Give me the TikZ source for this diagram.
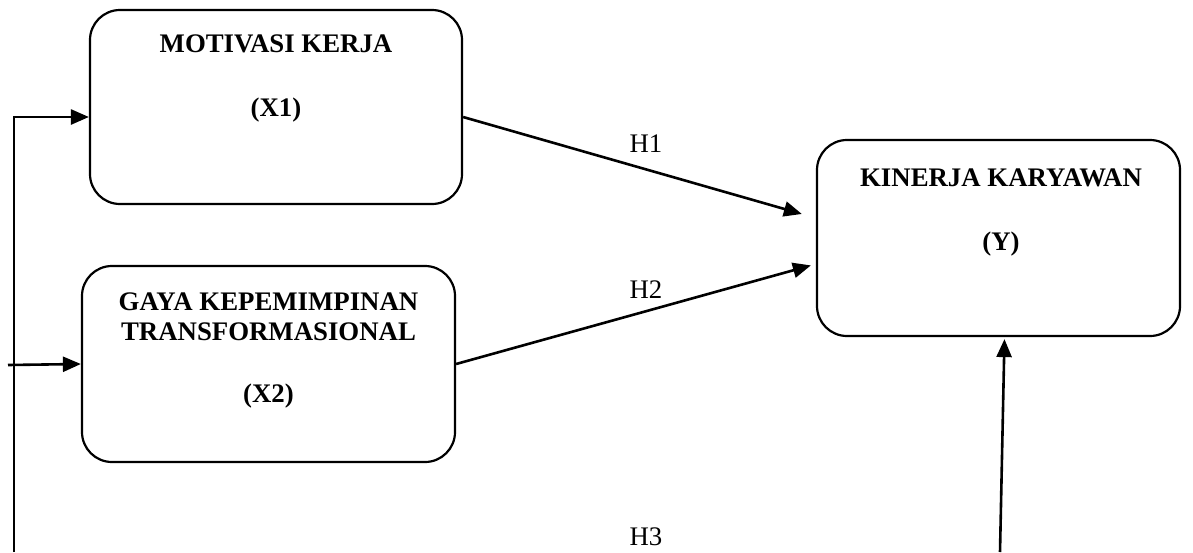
\documentclass[tikz,border=0pt]{standalone}
\usepackage{fontspec}
\setmainfont{Liberation Serif}
\usetikzlibrary{arrows.meta}

\tikzset{
  varbox/.style={draw, line width=1.1pt, rounded corners=15pt, inner sep=0pt},
  boxtext/.style={anchor=north, align=center, inner sep=0pt, font=\fontsize{13.4}{15}\selectfont\bfseries},
  hyp/.style={anchor=base, inner sep=0pt, font=\fontsize{13.4}{15}\selectfont},
  flow/.style={line width=1.3pt, -{Triangle[length=9pt,width=7.5pt]}}
}

\begin{document}
\begin{tikzpicture}[x=0.5pt, y=-0.5pt]
  \useasboundingbox (0,0) rectangle (1193,552);

  % variables
  \node[varbox, minimum width=186pt, minimum height=97pt] (x1) at (276,107) {};
  \node[varbox, minimum width=186.5pt, minimum height=98pt] (x2) at (268.5,364) {};
  \node[varbox, minimum width=181.5pt, minimum height=98pt] (y) at (998.5,238) {};

  \node[boxtext] (x1t) at (276,34) {MOTIVASI KERJA\\[17pt](X1)};
  \node[boxtext] (x2t) at (268.5,292) {GAYA KEPEMIMPINAN\\TRANSFORMASIONAL\\[16pt](X2)};
  \node[boxtext] (yt) at (1001,168) {KINERJA KARYAWAN\\[17pt](Y)};

  % hypotheses
  \node[hyp] (h1) at (646,152) {H1};
  \node[hyp] (h2) at (646,298) {H2};
  \node[hyp] (h3) at (646,545) {H3};

  \coordinate (lb) at (14,552);
  \coordinate (s2) at (8,365);
  \coordinate (yb) at (1000,552);

  \draw[flow] (lb) |- ([yshift=-5pt]x1.west);
  \draw[flow] (s2) -- (x2.west);
  \draw[flow, shorten >=7.3pt] ([yshift=-5pt]x1.east) -- ([yshift=10pt]y.west);
  \draw[flow, shorten >=2.6pt] (x2.east) -- ([yshift=-13pt]y.west);
  \draw[flow, shorten >=1pt] (yb) -- ([xshift=3pt]y.south);
\end{tikzpicture}
\end{document}
